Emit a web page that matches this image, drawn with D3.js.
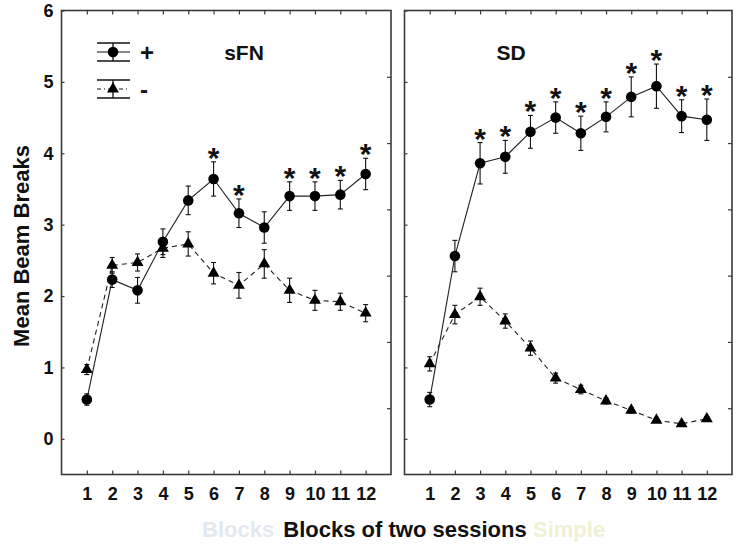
<!DOCTYPE html>
<html>
<head>
<meta charset="utf-8">
<script src="https://cdn.jsdelivr.net/npm/d3@7"></script>
<style>
  html, body { margin: 0; padding: 0; background: #fff; }
  svg { display: block; font-family: "Liberation Sans", Arial, sans-serif; }
</style>
</head>
<body>
<svg id="chart" width="739" height="551"></svg>
<script>
// ---------- data ----------
const blocks = [1, 2, 3, 4, 5, 6, 7, 8, 9, 10, 11, 12];
const yTickValues = [0, 1, 2, 3, 4, 5, 6];
const panelNames = ["sFN", "SD"];
const legendLabels = ["+", "-"];

const sfnPlus     = [0.55, 2.23, 2.08, 2.76, 3.34, 3.64, 3.16, 2.96, 3.40, 3.40, 3.42, 3.71];
const sfnPlusErr  = [0.08, 0.11, 0.18, 0.18, 0.20, 0.24, 0.20, 0.22, 0.20, 0.20, 0.20, 0.22];
const sfnMinus    = [0.97, 2.43, 2.47, 2.67, 2.73, 2.32, 2.15, 2.45, 2.08, 1.94, 1.92, 1.76];
const sfnMinusErr = [0.07, 0.11, 0.12, 0.13, 0.17, 0.15, 0.18, 0.20, 0.17, 0.14, 0.12, 0.12];
const sfnStars    = [6, 7, 9, 10, 11, 12];

const sdPlus      = [0.55, 2.56, 3.86, 3.95, 4.30, 4.50, 4.28, 4.51, 4.79, 4.94, 4.52, 4.47];
const sdPlusErr   = [0.10, 0.22, 0.29, 0.23, 0.23, 0.22, 0.24, 0.21, 0.28, 0.31, 0.23, 0.29];
const sdMinus     = [1.05, 1.74, 1.99, 1.65, 1.27, 0.85, 0.69, 0.53, 0.40, 0.26, 0.21, 0.28];
const sdMinusErr  = [0.10, 0.13, 0.12, 0.10, 0.10, 0.07, 0.06, 0.04, 0.04, 0.03, 0.03, 0.03];
const sdStars     = [3, 4, 5, 6, 7, 8, 9, 10, 11, 12];

// ---------- layout ----------
const svg = d3.select("#chart");
const plotTop = 10.5, plotBottom = 474.5;
const panels = [
  { name: panelNames[0], x0: 61.5, x1: 391, plus: sfnPlus, plusErr: sfnPlusErr, minus: sfnMinus, minusErr: sfnMinusErr, stars: sfnStars, labels: true, titleX: 244 },
  { name: panelNames[1], x0: 404.5, x1: 732, plus: sdPlus, plusErr: sdPlusErr, minus: sdMinus, minusErr: sdMinusErr, stars: sdStars, labels: false, titleX: 511 }
];

const y = d3.scaleLinear().domain([-0.5, 6]).range([plotBottom, plotTop]);
const yRightTicks = d3.scaleLinear().domain([0, 7]).range([plotBottom, plotTop]);
const frameColor = "#3a3a3a";
const fontBold = 'bold';

panels.forEach(p => {
  const x = d3.scaleLinear().domain([0, 13]).range([p.x0, p.x1]);
  const g = svg.append("g");

  // frame
  g.append("rect")
    .attr("x", p.x0).attr("y", plotTop)
    .attr("width", p.x1 - p.x0).attr("height", plotBottom - plotTop)
    .attr("fill", "none").attr("stroke", frameColor).attr("stroke-width", 1.6);

  // bottom axis (inward ticks, labels)
  const bx = g.append("g").attr("transform", `translate(0,${plotBottom})`)
    .call(d3.axisBottom(x).tickValues(blocks).tickSizeInner(-4).tickSizeOuter(0).tickPadding(13).tickFormat(d3.format("d")));
  bx.select(".domain").remove();
  bx.selectAll("line").attr("stroke", frameColor).attr("stroke-width", 1.2);
  bx.selectAll("text").attr("font-size", 18).attr("font-weight", fontBold).attr("fill", "#111")
    .attr("font-family", '"Liberation Sans", Arial, sans-serif');

  // top axis ticks
  const tx = g.append("g").attr("transform", `translate(0,${plotTop})`)
    .call(d3.axisTop(x).tickValues(blocks).tickSizeInner(-4).tickSizeOuter(0).tickFormat(""));
  tx.select(".domain").remove();
  tx.selectAll("line").attr("stroke", frameColor).attr("stroke-width", 1.2);

  // left axis
  const ly = g.append("g").attr("transform", `translate(${p.x0},0)`)
    .call(d3.axisLeft(y).tickValues(yTickValues).tickSizeInner(-3).tickSizeOuter(0).tickPadding(8)
      .tickFormat(p.labels ? d3.format("d") : ""));
  ly.select(".domain").remove();
  ly.selectAll("line").attr("stroke", frameColor).attr("stroke-width", 1.2);
  ly.selectAll("text").attr("font-size", 18).attr("font-weight", fontBold).attr("fill", "#111")
    .attr("font-family", '"Liberation Sans", Arial, sans-serif');

  // right edge ticks
  const ry = g.append("g").attr("transform", `translate(${p.x1},0)`)
    .call(d3.axisRight(yRightTicks).tickValues([1, 2, 3, 4, 5, 6]).tickSizeInner(-4).tickSizeOuter(0).tickFormat(""));
  ry.select(".domain").remove();
  ry.selectAll("line").attr("stroke", frameColor).attr("stroke-width", 1.2);

  const plusData = blocks.map((b, i) => ({ b, v: p.plus[i], e: p.plusErr[i] }));
  const minusData = blocks.map((b, i) => ({ b, v: p.minus[i], e: p.minusErr[i] }));
  const line = d3.line().x(d => x(d.b)).y(d => y(d.v));

  g.append("path").datum(minusData).attr("d", line)
    .attr("fill", "none").attr("stroke", "#222").attr("stroke-width", 1.1).attr("stroke-dasharray", "5,4");
  g.append("path").datum(plusData).attr("d", line)
    .attr("fill", "none").attr("stroke", "#222").attr("stroke-width", 1.1);

  // error bars
  [plusData, minusData].forEach(data => {
    const eb = g.append("g").attr("stroke", "#111").attr("stroke-width", 1.1);
    eb.selectAll("line.v").data(data).join("line").attr("class", "v")
      .attr("x1", d => x(d.b)).attr("x2", d => x(d.b))
      .attr("y1", d => y(d.v + d.e)).attr("y2", d => y(d.v - d.e));
    eb.selectAll("line.t").data(data).join("line").attr("class", "t")
      .attr("x1", d => x(d.b) - 2.5).attr("x2", d => x(d.b) + 2.5)
      .attr("y1", d => y(d.v + d.e)).attr("y2", d => y(d.v + d.e));
    eb.selectAll("line.b").data(data).join("line").attr("class", "b")
      .attr("x1", d => x(d.b) - 2.5).attr("x2", d => x(d.b) + 2.5)
      .attr("y1", d => y(d.v - d.e)).attr("y2", d => y(d.v - d.e));
  });

  // markers
  g.selectAll("path.tri").data(minusData).join("path").attr("class", "tri")
    .attr("d", d3.symbol(d3.symbolTriangle, 62)())
    .attr("transform", d => `translate(${x(d.b)},${y(d.v)})`)
    .attr("fill", "#000");
  g.selectAll("circle.dot").data(plusData).join("circle").attr("class", "dot")
    .attr("cx", d => x(d.b)).attr("cy", d => y(d.v)).attr("r", 5.3)
    .attr("fill", "#000");

  // significance stars
  g.selectAll("text.star").data(p.stars).join("text").attr("class", "star")
    .attr("x", b => x(b))
    .attr("y", b => { const i = blocks.indexOf(b); return y(p.plus[i] + p.plusErr[i]) + 6; })
    .attr("text-anchor", "middle")
    .attr("font-size", 30).attr("font-weight", fontBold).attr("fill", "#111")
    .text("*");

  // panel title
  g.append("text").attr("x", p.titleX).attr("y", 52)
    .attr("text-anchor", "middle").attr("dominant-baseline", "central")
    .attr("font-size", 21).attr("font-weight", fontBold).attr("fill", "#111")
    .text(p.name);
});

// legend (left panel)
const leg = svg.append("g");
const legRows = [
  { cy: 52, dashed: false, label: legendLabels[0] },
  { cy: 89, dashed: true, label: legendLabels[1] }
];
legRows.forEach(r => {
  const lx0 = 97, lx1 = 130, cx = 113;
  leg.append("line").attr("x1", lx0).attr("x2", lx1).attr("y1", r.cy - 9).attr("y2", r.cy - 9)
    .attr("stroke", "#111").attr("stroke-width", 1.3);
  leg.append("line").attr("x1", lx0).attr("x2", lx1).attr("y1", r.cy + 9).attr("y2", r.cy + 9)
    .attr("stroke", "#111").attr("stroke-width", 1.3);
  leg.append("line").attr("x1", cx).attr("x2", cx).attr("y1", r.cy - 9).attr("y2", r.cy + 9)
    .attr("stroke", "#111").attr("stroke-width", 1.3);
  leg.append("line").attr("x1", lx0).attr("x2", lx1).attr("y1", r.cy).attr("y2", r.cy)
    .attr("stroke", "#111").attr("stroke-width", 1.1)
    .attr("stroke-dasharray", r.dashed ? "4,3,1,3" : null);
  if (r.dashed) {
    leg.append("path").attr("d", d3.symbol(d3.symbolTriangle, 62)())
      .attr("transform", `translate(${cx},${r.cy})`).attr("fill", "#000");
  } else {
    leg.append("circle").attr("cx", cx).attr("cy", r.cy).attr("r", 5.3).attr("fill", "#000");
  }
  leg.append("text").attr("x", 140).attr("y", r.cy).attr("dominant-baseline", "central")
    .attr("font-size", 24).attr("font-weight", "bold").attr("fill", "#111").text(r.label);
});

// faint ghost texts (visible remnants in the reference)
svg.append("text").attr("x", 202).attr("y", 537)
  .attr("font-size", 22).attr("font-weight", "bold").attr("fill", "#e3e7ee")
  .text("Blocks");
svg.append("text").attr("x", 533).attr("y", 537)
  .attr("font-size", 22).attr("font-weight", "bold").attr("fill", "#eef1d2")
  .text("Simple");

// axis titles
svg.append("text").attr("x", 405).attr("y", 537).attr("text-anchor", "middle")
  .attr("font-size", 22).attr("font-weight", "bold").attr("fill", "#111")
  .text("Blocks of two sessions");
svg.append("text").attr("transform", "translate(21,246) rotate(-90)")
  .attr("text-anchor", "middle").attr("dominant-baseline", "central")
  .attr("font-size", 22).attr("font-weight", "bold").attr("fill", "#111")
  .text("Mean Beam Breaks");
</script>
</body>
</html>
